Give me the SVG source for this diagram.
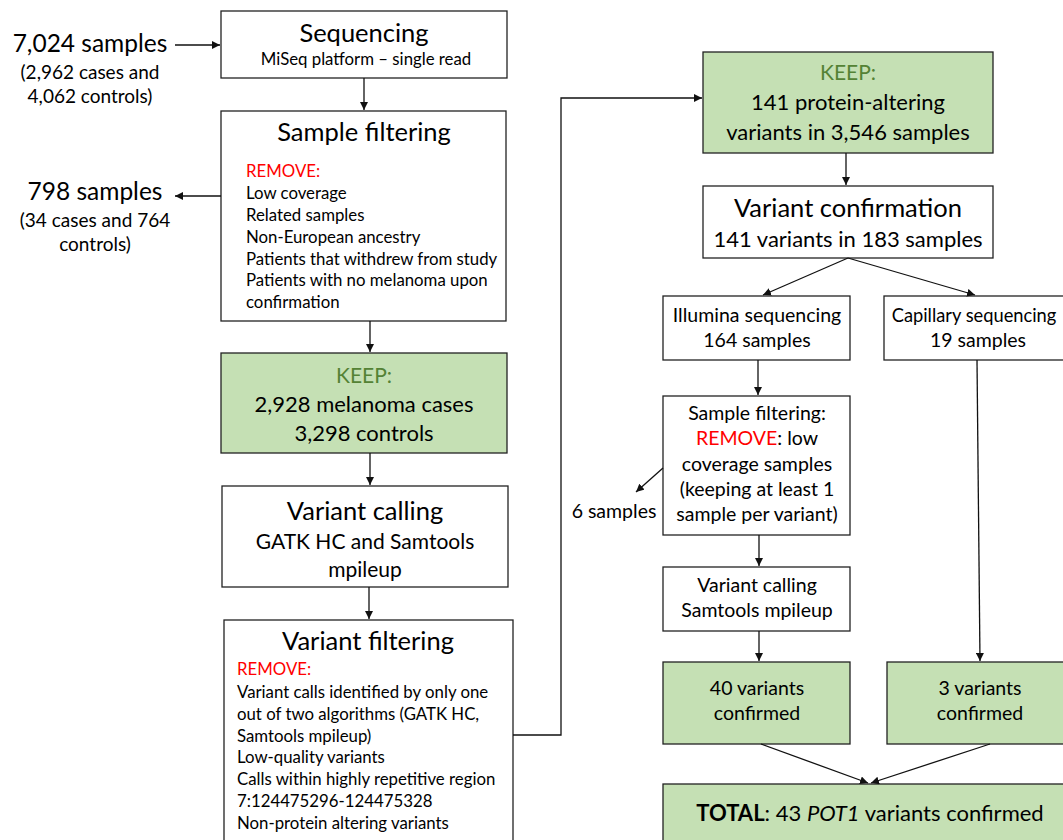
<svg xmlns="http://www.w3.org/2000/svg" width="1063" height="840" viewBox="0 0 1063 840">
<style>
text{font-family:Lato,"Liberation Sans",sans-serif;fill:#000}
.box{fill:#fff;stroke:#222;stroke-width:1.3}
.keep{fill:#c5e0b4;stroke:#222;stroke-width:1.3}
.t{font-size:25.5px;text-anchor:middle}
.m{font-size:22px;text-anchor:middle}
.m2{font-size:21px;text-anchor:middle}
.s{font-size:16.8px}
.sc{font-size:19.5px;text-anchor:middle}
.red{fill:#ff0000}
.grn{fill:#548235}
.c{text-anchor:middle}
.conn line,.conn polyline{stroke:#111;stroke-width:1.3;fill:none;marker-end:url(#ah)}
</style>
<defs>
<marker id="ah" viewBox="0 0 10 10" refX="10" refY="5" markerWidth="8" markerHeight="8" markerUnits="userSpaceOnUse" orient="auto">
<path d="M0,0 L10,5 L0,10 z" fill="#111"/>
</marker>
</defs>
<rect width="1063" height="840" fill="#fff"/>

<g id="input">
<text x="90" y="52" class="t" style="font-size:24.5px">7,024 samples</text>
<text x="90" y="79" class="sc" style="font-size:19px">(2,962 cases and</text>
<text x="90" y="103" class="sc" style="font-size:19px">4,062 controls)</text>
</g>
<g id="removed1">
<text x="95" y="200" class="t" style="font-size:24.5px">798 samples</text>
<text x="95" y="227" class="sc" style="font-size:19px">(34 cases and 764</text>
<text x="95" y="251" class="sc" style="font-size:19px">controls)</text>
</g>
<g id="sequencing">
<rect x="221" y="11" width="286" height="67" class="box"/>
<text x="364" y="42" class="t">Sequencing</text>
<text x="366" y="65" class="s c">MiSeq platform – single read</text>
</g>
<g id="samplefilter">
<rect x="221" y="111" width="285" height="210" class="box"/>
<text x="364" y="141" class="t">Sample filtering</text>
<text x="246" y="177" class="s red">REMOVE:</text>
<text x="246" y="199" class="s">Low coverage</text>
<text x="246" y="221" class="s">Related samples</text>
<text x="246" y="243" class="s">Non-European ancestry</text>
<text x="246" y="265" class="s">Patients that withdrew from study</text>
<text x="246" y="286" class="s">Patients with no melanoma upon</text>
<text x="246" y="308" class="s">confirmation</text>
</g>
<g id="keep1">
<rect x="221" y="353" width="286" height="100" class="keep"/>
<text x="364" y="383" class="m2 grn">KEEP:</text>
<text x="364" y="412" class="m">2,928 melanoma cases</text>
<text x="364" y="441" class="m">3,298 controls</text>
</g>
<g id="variantcalling">
<rect x="222" y="486" width="286" height="101" class="box"/>
<text x="365" y="520" class="t">Variant calling</text>
<text x="365" y="549" class="m2">GATK HC and Samtools</text>
<text x="365" y="577" class="m2">mpileup</text>
</g>
<g id="variantfilter">
<rect x="224" y="620" width="289" height="230" class="box"/>
<text x="368" y="650" class="t">Variant filtering</text>
<text x="237" y="675" class="s red">REMOVE:</text>
<text x="237" y="698" class="s">Variant calls identified by only one</text>
<text x="237" y="720" class="s">out of two algorithms (GATK HC,</text>
<text x="237" y="742" class="s">Samtools mpileup)</text>
<text x="237" y="763" class="s">Low-quality variants</text>
<text x="237" y="785" class="s">Calls within highly repetitive region</text>
<text x="237" y="807" class="s">7:124475296-124475328</text>
<text x="237" y="829" class="s">Non-protein altering variants</text>
</g>
<g id="keep2">
<rect x="703" y="52" width="290" height="101" class="keep"/>
<text x="848" y="80" class="m2 grn">KEEP:</text>
<text x="848" y="110" class="m">141 protein-altering</text>
<text x="848" y="140" class="m">variants in 3,546 samples</text>
</g>
<g id="confirmation">
<rect x="703" y="186" width="290" height="72" class="box"/>
<text x="848" y="217" class="t">Variant confirmation</text>
<text x="848" y="247" class="m">141 variants in 183 samples</text>
</g>
<g id="illumina">
<rect x="663" y="296" width="187" height="64" class="box"/>
<text x="757" y="322" class="sc">Illumina sequencing</text>
<text x="757" y="347" class="sc">164 samples</text>
</g>
<g id="capillary">
<rect x="884" y="296" width="190" height="64" class="box"/>
<text x="974" y="322" class="sc" style="font-size:18.3px">Capillary sequencing</text>
<text x="978" y="347" class="sc">19 samples</text>
</g>
<g id="samplefilter2">
<rect x="663" y="396" width="187" height="139" class="box"/>
<text x="757" y="420" class="sc">Sample filtering:</text>
<text x="757" y="445" class="sc"><tspan class="red">REMOVE</tspan>: low</text>
<text x="757" y="471" class="sc">coverage samples</text>
<text x="757" y="496" class="sc">(keeping at least 1</text>
<text x="757" y="521" class="sc">sample per variant)</text>
</g>
<g id="removed2">
<text x="614" y="518" class="sc">6 samples</text>
</g>
<g id="variantcalling2">
<rect x="663" y="567" width="187" height="64" class="box"/>
<text x="757" y="592" class="sc">Variant calling</text>
<text x="757" y="617" class="sc">Samtools mpileup</text>
</g>
<g id="confirmed40">
<rect x="663" y="662" width="187" height="82" class="keep"/>
<text x="757" y="695" class="sc">40 variants</text>
<text x="757" y="720" class="sc">confirmed</text>
</g>
<g id="confirmed3">
<rect x="887" y="662" width="190" height="82" class="keep"/>
<text x="980" y="695" class="sc">3 variants</text>
<text x="980" y="720" class="sc">confirmed</text>
</g>
<g id="total">
<rect x="663" y="784" width="410" height="70" class="keep"/>
<text x="870" y="821" class="m"><tspan font-weight="bold">TOTAL</tspan>: 43 <tspan font-style="italic">POT1</tspan> variants confirmed</text>
</g>

<g id="connectors" class="conn">
<line x1="175" y1="45" x2="220" y2="45"/>
<line x1="221" y1="196" x2="175" y2="196"/>
<line x1="364" y1="78" x2="364" y2="110"/>
<line x1="370" y1="321" x2="370" y2="352"/>
<line x1="370" y1="453" x2="370" y2="485"/>
<line x1="369" y1="587" x2="369" y2="619"/>
<polyline points="513,735 561,735 561,98 702,98"/>
<line x1="846" y1="153" x2="846" y2="185"/>
<line x1="848" y1="258" x2="763" y2="295"/>
<line x1="848" y1="258" x2="975" y2="295"/>
<line x1="758" y1="360" x2="758" y2="395"/>
<line x1="663" y1="468" x2="636" y2="492"/>
<line x1="759" y1="535" x2="759" y2="566"/>
<line x1="759" y1="631" x2="759" y2="661"/>
<line x1="977" y1="360" x2="980" y2="661"/>
<line x1="761" y1="744" x2="868" y2="783"/>
<line x1="990" y1="744" x2="871" y2="783"/>
</g>
</svg>
